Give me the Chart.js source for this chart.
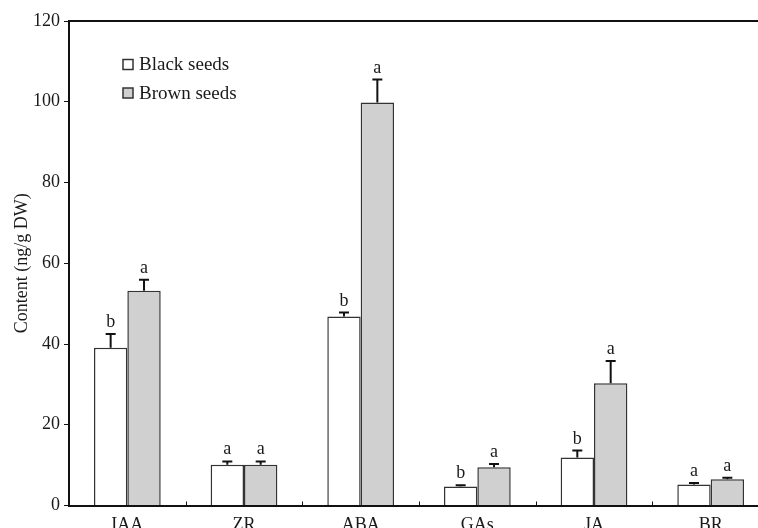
<!DOCTYPE html>
<html>
<head>
<meta charset="utf-8">
<script src="https://cdn.jsdelivr.net/npm/chart.js@4"></script>
<style>
  html, body { margin: 0; padding: 0; background: #fff; overflow: hidden; }
  #wrap { position: relative; width: 790px; height: 545px; }
</style>
</head>
<body>
<div id="wrap"><canvas id="c"></canvas></div>
<script>
// Hormone content of black and brown seeds
const categories = ['IAA', 'ZR', 'ABA', 'GAs', 'JA', 'BR'];
const blackValues = [39.1, 10.1, 46.8, 4.7, 11.9, 5.2];
const blackErrors = [3.4, 0.8, 1.0, 0.3, 1.7, 0.4];
const blackLetters = ['b', 'a', 'b', 'b', 'b', 'a'];
const brownValues = [53.2, 10.1, 99.8, 9.5, 30.3, 6.5];
const brownErrors = [2.7, 0.8, 5.7, 0.8, 5.5, 0.4];
const brownLetters = ['a', 'a', 'a', 'a', 'a', 'a'];
const yTicks = [0, 20, 40, 60, 80, 100, 120];

const SERIF = '"Liberation Serif", "DejaVu Serif", serif';
const INK = '#1a1a1a';

// Error bars with significance letters above them
const errorBars = {
  id: 'errorBars',
  afterDatasetsDraw(chart) {
    const ctx = chart.ctx;
    const y = chart.scales.y;
    ctx.save();
    chart.data.datasets.forEach((ds, di) => {
      const meta = chart.getDatasetMeta(di);
      meta.data.forEach((bar, i) => {
        const top = y.getPixelForValue(ds.data[i] + ds.errors[i]);
        ctx.strokeStyle = '#111';
        ctx.lineWidth = 2;
        ctx.beginPath();
        ctx.moveTo(bar.x, bar.y);
        ctx.lineTo(bar.x, top);
        ctx.moveTo(bar.x - 5, top);
        ctx.lineTo(bar.x + 5, top);
        ctx.stroke();
        ctx.fillStyle = INK;
        ctx.font = '18px ' + SERIF;
        ctx.textAlign = 'center';
        ctx.textBaseline = 'alphabetic';
        ctx.fillText(ds.letters[i], bar.x, top - 7);
      });
    });
    ctx.restore();
  }
};

// Frame top line, inward category ticks and the inset legend
const frame = {
  id: 'frame',
  afterDraw(chart) {
    const ctx = chart.ctx;
    const a = chart.chartArea;
    const x = chart.scales.x;
    ctx.save();
    ctx.strokeStyle = '#111';
    ctx.lineWidth = 2;
    ctx.beginPath();
    ctx.moveTo(a.left - 1, a.top);
    ctx.lineTo(a.right, a.top);
    ctx.stroke();
    ctx.lineWidth = 1;
    ctx.beginPath();
    for (let i = 1; i < categories.length; i++) {
      const bx = Math.round((x.getPixelForValue(i - 1) + x.getPixelForValue(i)) / 2) + 0.5;
      ctx.moveTo(bx, a.bottom);
      ctx.lineTo(bx, a.bottom - 4);
    }
    ctx.stroke();

    chart.data.datasets.forEach((ds, di) => {
      const cy = 64.5 + di * 28.5;
      ctx.fillStyle = ds.backgroundColor;
      ctx.fillRect(123, cy - 5, 10, 10);
      ctx.strokeStyle = '#333';
      ctx.lineWidth = 1.5;
      ctx.strokeRect(123, cy - 5, 10, 10);
      ctx.fillStyle = INK;
      ctx.font = '19px ' + SERIF;
      ctx.textAlign = 'left';
      ctx.textBaseline = 'middle';
      ctx.fillText(ds.label, 139, cy + 1);
    });
    ctx.restore();
  }
};

new Chart(document.getElementById('c'), {
  type: 'bar',
  data: {
    labels: categories,
    datasets: [
      { label: 'Black seeds', data: blackValues, errors: blackErrors, letters: blackLetters,
        backgroundColor: '#ffffff', borderColor: '#333333', borderWidth: 1.5 },
      { label: 'Brown seeds', data: brownValues, errors: brownErrors, letters: brownLetters,
        backgroundColor: '#d0d0d0', borderColor: '#333333', borderWidth: 1.5 }
    ]
  },
  options: {
    responsive: true,
    maintainAspectRatio: false,
    animation: false,
    devicePixelRatio: 1,
    layout: { padding: { top: 21, right: 21, left: 0, bottom: 0 } },
    plugins: { legend: { display: false }, tooltip: { enabled: false } },
    datasets: { bar: { categoryPercentage: 0.572, barPercentage: 1.0 } },
    scales: {
      x: {
        grid: { display: false, drawTicks: false },
        border: { display: true, color: '#111', width: 2 },
        ticks: { color: INK, font: { family: SERIF, size: 18 }, padding: 9 },
        afterFit(s) { s.height = 39.5; }
      },
      y: {
        min: 0, max: 120,
        afterBuildTicks(s) { s.ticks = yTicks.map(v => ({ value: v })); },
        grid: { drawOnChartArea: false, drawTicks: true, tickLength: 5, color: '#111', lineWidth: 1 },
        border: { display: true, color: '#111', width: 2 },
        ticks: { color: INK, font: { family: SERIF, size: 18 }, padding: 4 },
        title: { display: true, text: 'Content (ng/g DW)', color: INK,
                 font: { family: SERIF, size: 18 }, padding: { top: 11, bottom: 0 } },
        afterFit(s) { s.width = 69; }
      }
    }
  },
  plugins: [errorBars, frame]
});
</script>
</body>
</html>
